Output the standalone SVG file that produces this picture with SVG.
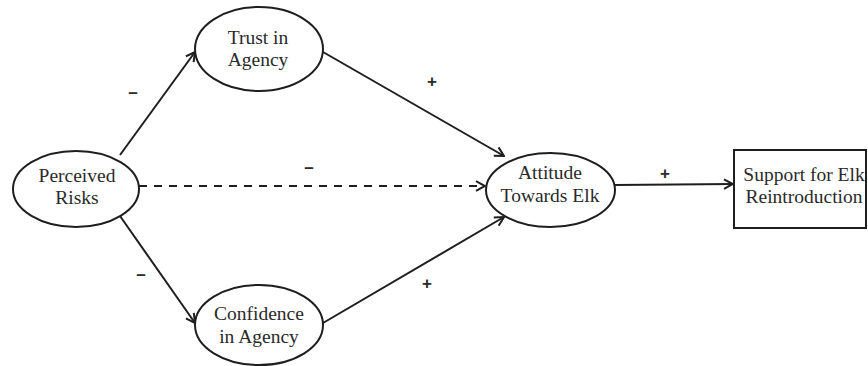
<svg xmlns="http://www.w3.org/2000/svg" width="868" height="366" viewBox="0 0 868 366">
<defs>
<style>
.node{fill:#fff;stroke:#1e1e1e;stroke-width:2}
.lbl{font-family:"Liberation Serif","Times New Roman",serif;font-size:19.5px;fill:#2a2a2a;text-anchor:middle}
.sign{font-family:"Liberation Sans",Arial,sans-serif;font-size:17px;font-weight:bold;fill:#2a2a2a;text-anchor:middle}
.edge{fill:none;stroke:#1e1e1e;stroke-width:2}
.dash{stroke-dasharray:8 7}
</style>
<marker id="arr" markerUnits="userSpaceOnUse" viewBox="0 0 12 12" markerWidth="12" markerHeight="12" refX="11" refY="6" orient="auto">
<path d="M2,1.2 L11,6 L2,10.8" fill="none" stroke="#1e1e1e" stroke-width="2"/>
</marker>
</defs>
<rect width="868" height="366" fill="#fff"/>
<g id="connectors">
<line class="edge" x1="120" y1="155" x2="195" y2="52" marker-end="url(#arr)"/>
<line class="edge" x1="120" y1="216" x2="195" y2="323" marker-end="url(#arr)"/>
<line class="edge dash" x1="139" y1="186" x2="485" y2="186" marker-end="url(#arr)"/>
<line class="edge" x1="323" y1="52" x2="504" y2="156" marker-end="url(#arr)"/>
<line class="edge" x1="323" y1="323" x2="504" y2="217" marker-end="url(#arr)"/>
<line class="edge" x1="615" y1="185" x2="733" y2="184" marker-end="url(#arr)"/>
<text class="sign" x="133" y="97.5">–</text>
<text class="sign" x="141" y="279.5">–</text>
<text class="sign" x="309" y="172.5">–</text>
<text class="sign" x="432" y="87">+</text>
<text class="sign" x="427" y="289">+</text>
<text class="sign" x="665" y="179">+</text>
</g>
<g id="perceived-risks">
<ellipse class="node" cx="76" cy="189" rx="63" ry="38"/>
<text class="lbl" x="77" y="182">Perceived</text>
<text class="lbl" x="77" y="204">Risks</text>
</g>
<g id="trust-in-agency">
<ellipse class="node" cx="259" cy="49" rx="64" ry="42"/>
<text class="lbl" x="258" y="44">Trust in</text>
<text class="lbl" x="258" y="66">Agency</text>
</g>
<g id="confidence-in-agency">
<ellipse class="node" cx="259" cy="325" rx="64" ry="40"/>
<text class="lbl" x="259" y="320">Confidence</text>
<text class="lbl" x="259" y="343">in Agency</text>
</g>
<g id="attitude-towards-elk">
<ellipse class="node" cx="550.5" cy="190" rx="64.5" ry="37"/>
<text class="lbl" x="550" y="179">Attitude</text>
<text class="lbl" x="550" y="202">Towards Elk</text>
</g>
<g id="support-for-elk">
<rect class="node" x="734" y="150" width="132" height="78"/>
<text class="lbl" x="804" y="181">Support for Elk</text>
<text class="lbl" x="804" y="203">Reintroduction</text>
</g>
</svg>
